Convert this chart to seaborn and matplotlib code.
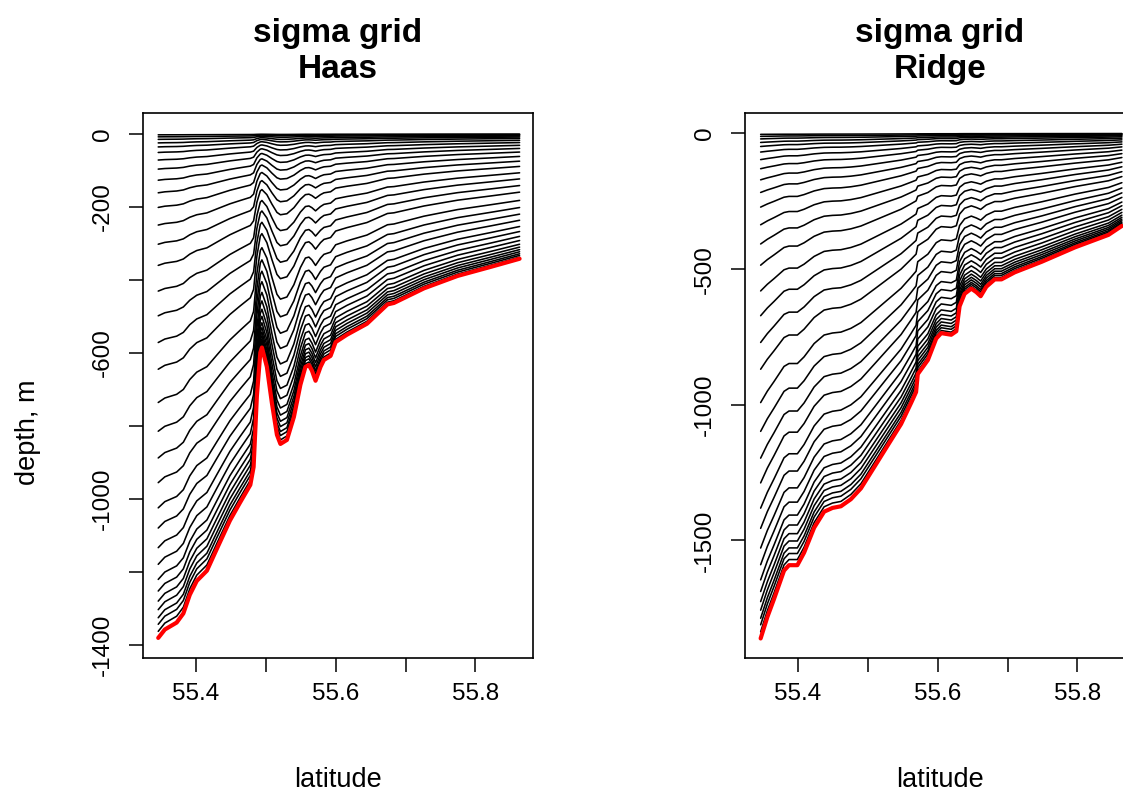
import numpy as np
import pandas as pd
import matplotlib
matplotlib.use("Agg")
import matplotlib.pyplot as plt
import seaborn as sns

# ---- data ----
# relative sigma levels (fraction of local depth, surface=0, bottom=1)
sigma_levels = [0.002, 0.006, 0.011, 0.018, 0.026, 0.037, 0.052, 0.070, 0.092, 0.117,
                0.146, 0.181, 0.219, 0.261, 0.312, 0.361, 0.414, 0.467, 0.533, 0.590,
                0.643, 0.692, 0.742, 0.782, 0.821, 0.854, 0.884, 0.907, 0.927, 0.944,
                0.960, 0.973, 0.987, 1.0]

# Haas transect: latitude and bottom depth (m)
haas_lat = [55.3458, 55.3553, 55.3722, 55.3818, 55.3910, 55.4010, 55.4155, 55.4298,
            55.4484, 55.4628, 55.4777, 55.4824, 55.4871, 55.4920, 55.4943, 55.5014,
            55.5086, 55.5158, 55.5208, 55.5301, 55.5401, 55.5494, 55.5566, 55.5616,
            55.5659, 55.5711, 55.5782, 55.5831, 55.5926, 55.5999, 55.6160, 55.6447,
            55.6741, 55.6834, 55.7264, 55.7746, 55.8224, 55.8633]
haas_depth = [1380, 1357, 1338, 1313, 1262, 1224, 1196, 1136,
              1059, 1010, 961, 912, 717, 599, 585, 638,
              737, 824, 849, 838, 775, 687, 638, 633,
              648, 676, 638, 619, 608, 570, 550, 520,
              467, 463, 423, 389, 364, 342]

# Ridge transect: latitude and bottom depth (m)
ridge_lat = [55.3464, 55.3560, 55.3655, 55.3799, 55.3870, 55.3990, 55.4086, 55.4230,
             55.4373, 55.4493, 55.4613, 55.4756, 55.4900, 55.5092, 55.5283, 55.5475,
             55.5619, 55.5690, 55.5714, 55.5859, 55.5978, 55.6050, 55.6193, 55.6266,
             55.6313, 55.6385, 55.6481, 55.6553, 55.6615, 55.6696, 55.6816, 55.6912,
             55.7103, 55.7490, 55.7966, 55.8445, 55.8637]
ridge_depth = [1861, 1782, 1716, 1611, 1591, 1591, 1545, 1453,
               1394, 1380, 1374, 1348, 1308, 1229, 1150, 1071,
               993, 953, 887, 835, 756, 736, 742, 729,
               637, 591, 572, 585, 600, 565, 538, 538,
               512, 473, 420, 374, 341]

titles = ["sigma grid\nHaas", "sigma grid\nRidge"]
haas_yticks = [0, -200, -400, -600, -800, -1000, -1200, -1400]
haas_ylabels = ["0", "-200", "", "-600", "", "-1000", "", "-1400"]
ridge_yticks = [0, -500, -1000, -1500]
ridge_ylabels = ["0", "-500", "-1000", "-1500"]
xticks = [55.4, 55.5, 55.6, 55.7, 55.8]
xlabels = ["55.4", "", "55.6", "", "55.8"]

sns.set_theme(style="white")
plt.rcParams['font.family'] = ['Liberation Sans', 'DejaVu Sans']
for key in ["text.color", "axes.labelcolor", "xtick.color", "ytick.color", "axes.edgecolor"]:
    plt.rcParams[key] = "black"

W, H = 1123, 796
fig = plt.figure(figsize=(W / 100, H / 100), dpi=100)

def px_axes(x0, y0, x1, y1):
    return fig.add_axes([x0 / W, 1 - y1 / H, (x1 - x0) / W, (y1 - y0) / H])

ax1 = px_axes(143, 113, 533, 658)
ax2 = px_axes(745, 113, 1135, 658)

def draw(ax, lat, depth, title, yticks, ylabels, ylim):
    lat = np.asarray(lat)
    depth = np.asarray(depth, dtype=float)
    rows = []
    for k, s in enumerate(sigma_levels[:-1]):
        for la, d in zip(lat, depth):
            rows.append((k, la, -s * d))
    df = pd.DataFrame(rows, columns=["level", "lat", "z"])
    sns.lineplot(data=df, x="lat", y="z", units="level", estimator=None,
                 color="black", linewidth=1.15, sort=False, ax=ax, legend=False)
    bot = pd.DataFrame({"lat": lat, "z": -sigma_levels[-1] * depth})
    sns.lineplot(data=bot, x="lat", y="z", color="red", linewidth=3.0,
                 sort=False, ax=ax, legend=False)
    ax.set_xlim(55.324, 55.8825)
    ax.set_ylim(*ylim)
    ax.set_xticks(xticks)
    ax.set_xticklabels(xlabels)
    ax.set_yticks(yticks)
    ax.set_yticklabels(ylabels, rotation=90, va="center")
    ax.tick_params(axis="both", direction="out", length=10, width=1.1,
                   color="black", labelsize=17.5, left=True, bottom=True)
    ax.tick_params(axis="x", pad=8)
    ax.tick_params(axis="y", pad=11)
    for sp in ax.spines.values():
        sp.set_color("black")
        sp.set_linewidth(1.2)
    ax.set_xlabel("")
    ax.set_ylabel("")
    ax.set_title(title, fontsize=24, fontweight="bold", pad=25, linespacing=1.2)

draw(ax1, haas_lat, haas_depth, titles[0], haas_yticks, haas_ylabels, (-1435, 57))
draw(ax2, ridge_lat, ridge_depth, titles[1], ridge_yticks, ridge_ylabels, (-1933, 75))

# axis labels placed in pixel coordinates
fig.text(338 / W, 1 - 780 / H, "latitude", fontsize=19.5, ha="center", va="center")
fig.text(940 / W, 1 - 780 / H, "latitude", fontsize=19.5, ha="center", va="center")
fig.text(28 / W, 1 - 432 / H, "depth, m", fontsize=19.5, ha="center", va="center",
         rotation=90)

fig.savefig("out.png", dpi=100)
